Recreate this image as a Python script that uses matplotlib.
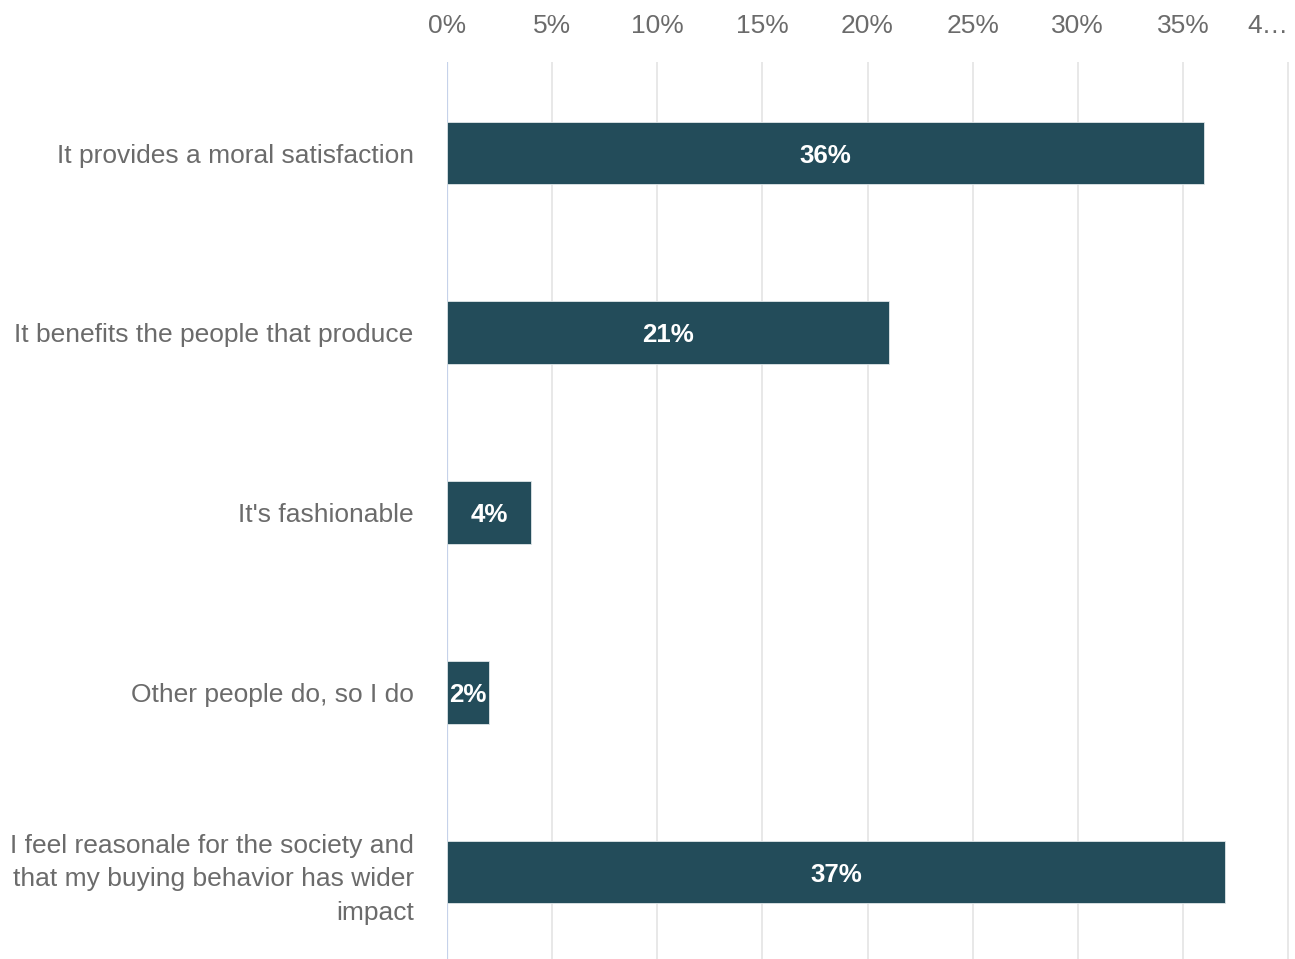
import matplotlib.pyplot as plt
from matplotlib.ticker import MultipleLocator

# Datos de la encuesta
categorias = [
    "It provides a moral satisfaction",
    "It benefits the people that produce",
    "It's fashionable",
    "Other people do, so I do",
    "I feel reasonale for the society and\nthat my buying behavior has wider\nimpact",
]
porcentajes = [36, 21, 4, 2, 37]
ticks_x = [0, 5, 10, 15, 20, 25, 30, 35, 40]
etiquetas_x = ["0%", "5%", "10%", "15%", "20%", "25%", "30%", "35%", "4…"]

COLOR_BARRA = "#234c5a"
COLOR_TEXTO = "#6b6b6b"

plt.rcParams["font.family"] = ["Liberation Sans", "DejaVu Sans"]

fig = plt.figure(figsize=(12.95, 9.59), dpi=100)
ax = fig.add_axes([0.3452, 0.0, 0.6527, 0.9353])

pos = list(range(len(categorias)))
barras = ax.barh(pos, porcentajes, height=0.35, color=COLOR_BARRA,
                 edgecolor="#dfe6e8", linewidth=0.6, zorder=3)

# Etiquetas dentro de cada barra
for b, v in zip(barras, porcentajes):
    ax.text(b.get_x() + b.get_width() / 2, b.get_y() + b.get_height() / 2 + 0.015,
            f"{v}%", ha="center", va="center", color="white",
            fontsize=18.6, fontweight="bold", zorder=4)

ax.set_xlim(0, 40.2)
ax.set_ylim(4.484, -0.506)
ax.xaxis.set_major_locator(MultipleLocator(5))
ax.set_xticks(ticks_x)
ax.set_xticklabels(etiquetas_x)
ax.xaxis.tick_top()
ax.tick_params(axis="x", length=0, pad=17, labelsize=19, labelcolor=COLOR_TEXTO)
ultima = ax.get_xticklabels()[-1]
ultima.set_horizontalalignment("right")

ax.set_yticks(pos)
ax.set_yticklabels(categorias, linespacing=1.5)
ax.tick_params(axis="y", length=0, pad=24, labelsize=19, labelcolor=COLOR_TEXTO)

ax.grid(axis="x", color="#e6e6e6", linewidth=1.3, zorder=0)
ax.axvline(0, color="#c6d2ea", linewidth=1.6, zorder=2)
for s in ax.spines.values():
    s.set_visible(False)

fig.savefig("out.png", dpi=100)
